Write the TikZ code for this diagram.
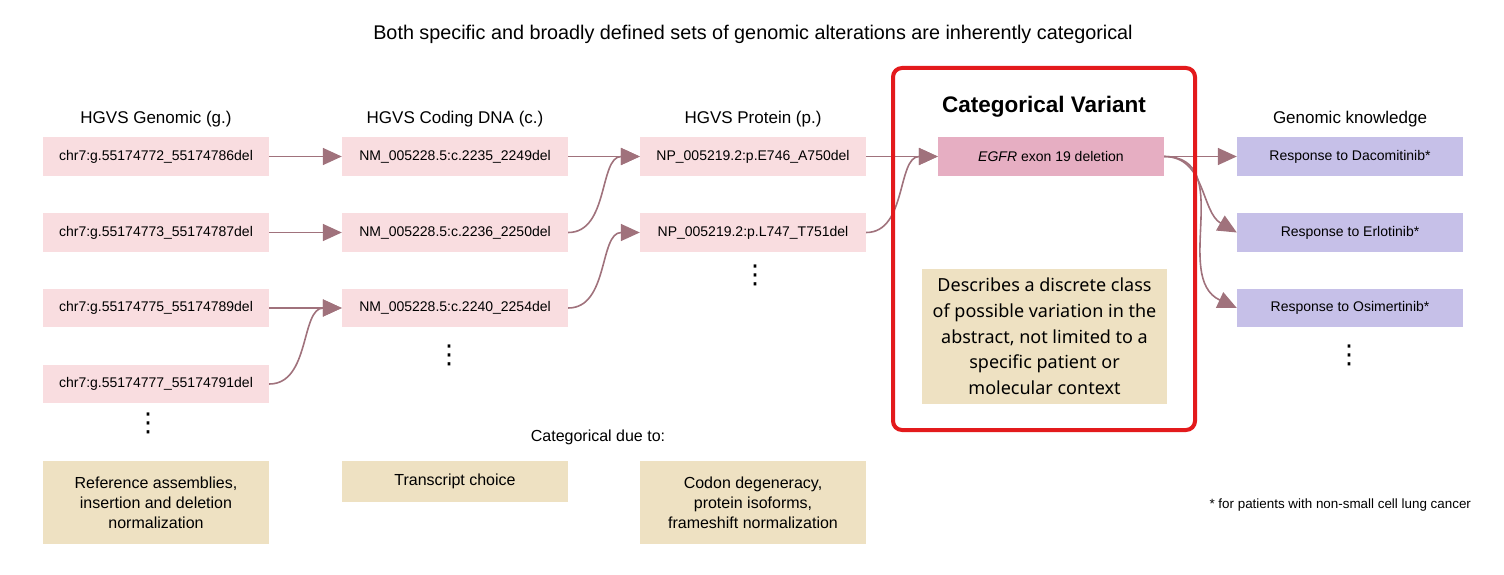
\documentclass[tikz,border=0pt]{standalone}
\usepackage{fontspec}
\setmainfont{Liberation Sans}
\newfontfamily\interfont{Noto Sans}
\newfontfamily\symfont{DejaVu Sans}
\usetikzlibrary{arrows.meta}
\definecolor{pinkbox}{HTML}{F9DDE0}
\definecolor{egfrbox}{HTML}{E6AEC2}
\definecolor{purplebox}{HTML}{C6C0E8}
\definecolor{beigebox}{HTML}{EEE1C2}
\definecolor{arrowc}{HTML}{A0727C}
\definecolor{redframe}{HTML}{E31A1C}
\begin{document}
\begin{tikzpicture}[x=1pt,y=-1pt,
  varbox/.style={fill=pinkbox, minimum width=226pt, minimum height=38.5pt, inner sep=0pt, font=\fontsize{14}{16}\selectfont},
  knowbox/.style={varbox, fill=purplebox},
  causebox/.style={fill=beigebox, minimum width=226pt, inner sep=0pt, align=center, font=\fontsize{16}{20}\selectfont},
  colhead/.style={font=\fontsize{17}{20}\selectfont},
  dotsnode/.style={inner sep=0pt, font=\symfont\fontsize{26}{26}\selectfont},
  conn/.style={draw=arrowc, line width=1.6pt, -{Triangle[length=19pt,width=17pt]}},
]
\useasboundingbox (0,0) rectangle (1504,575);

\node[font=\fontsize{19.8}{22}\selectfont] (title) at (753,34) {Both specific and broadly defined sets of genomic alterations are inherently categorical};

% column headings
\node[colhead] (h1) at (156,119) {HGVS Genomic (g.)};
\node[colhead] (h2) at (455,119) {HGVS Coding DNA (c.)};
\node[colhead] (h3) at (753,119) {HGVS Protein (p.)};
\node[colhead] (h5) at (1350,119) {Genomic knowledge};
\node[font=\bfseries\fontsize{22.5}{25}\selectfont] (h4) at (1044,107) {Categorical Variant};

% column 1
\node[varbox] (g1) at (156,156.5) {chr7:g.55174772\_55174786del};
\node[varbox] (g2) at (156,232.5) {chr7:g.55174773\_55174787del};
\node[varbox] (g3) at (156,308) {chr7:g.55174775\_55174789del};
\node[varbox] (g4) at (156,384) {chr7:g.55174777\_55174791del};
\node[dotsnode] (d1) at (148,423) {⋮};

% column 2
\node[varbox] (c1) at (455,156.5) {NM\_005228.5:c.2235\_2249del};
\node[varbox] (c2) at (455,232.5) {NM\_005228.5:c.2236\_2250del};
\node[varbox] (c3) at (455,308) {NM\_005228.5:c.2240\_2254del};
\node[dotsnode] (d2) at (449,355) {⋮};

% column 3
\node[varbox] (p1) at (753,156.5) {NP\_005219.2:p.E746\_A750del};
\node[varbox] (p2) at (753,232.5) {NP\_005219.2:p.L747\_T751del};
\node[dotsnode] (d3) at (755,275) {⋮};

% categorical variant
\node[varbox, fill=egfrbox] (egfr) at (1051,156.5) {\textit{EGFR} exon 19 deletion};
\node[fill=beigebox, minimum width=245pt, minimum height=135pt, inner sep=0pt, align=center,
      font=\interfont\fontsize{18}{25.7}\selectfont] (desc) at (1044.5,336.5)
  {\rule{0pt}{8pt}Describes a discrete class\\of possible variation in the\\abstract, not limited to a\\specific patient or\\molecular context};

% column 5
\node[knowbox] (k1) at (1350,156.5) {Response to Dacomitinib*};
\node[knowbox] (k2) at (1350,232.5) {Response to Erlotinib*};
\node[knowbox] (k3) at (1350,308) {Response to Osimertinib*};
\node[dotsnode] (d5) at (1349,355) {⋮};

% bottom
\node[font=\fontsize{16}{20}\selectfont] (due) at (598,437) {Categorical due to:};
\node[causebox, minimum height=83pt] (r1) at (156,502.5) {Reference assemblies,\\insertion and deletion\\normalization};
\node[causebox, minimum height=41pt] (r2) at (455,481.5) {\raisebox{-3pt}{Transcript choice}};
\node[causebox, minimum height=83pt] (r3) at (753,502.5) {Codon degeneracy,\\protein isoforms,\\frameshift normalization};
\node[font=\fontsize{13.4}{15}\selectfont, anchor=west] (foot) at (1206,505) {* for patients with non-small cell lung cancer};

% connectors
\draw[conn] (g1.east) -- (c1.west);
\draw[conn] (g2.east) -- (c2.west);
\draw[conn] (g3.east) -- (c3.west);
\draw[conn] (g4.east) to[out=0,in=180] (c3.west);
\draw[conn] (c1.east) -- (p1.west);
\draw[conn] (c2.east) to[out=0,in=180] (p1.west);
\draw[conn] (c3.east) to[out=0,in=180] (p2.west);
\draw[conn] (p1.east) -- (egfr.west);
\draw[conn] (p2.east) to[out=0,in=180] (egfr.west);
\draw[conn] (egfr.east) -- (k1.west);
\draw[conn] (egfr.east) to[out=0,in=150] (k2.west);
\draw[conn] (egfr.east) to[out=0,in=155,looseness=1.1] (k3.west);

% red frame
\node[draw=redframe, line width=4pt, rounded corners=9pt, minimum width=302pt, minimum height=362pt, inner sep=0pt] (frame) at (1044,249) {};
\end{tikzpicture}
\end{document}
